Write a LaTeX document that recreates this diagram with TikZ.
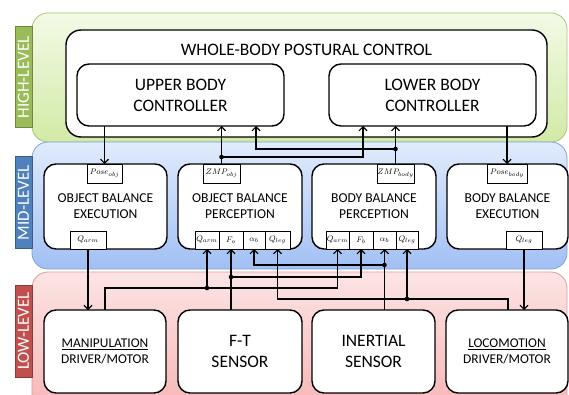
\documentclass[tikz,border=0pt]{standalone}
\usepackage{fontspec}
\setmainfont{Carlito}
\usetikzlibrary{arrows.meta,calc}
\definecolor{gtab}{HTML}{9BBB59}\definecolor{gtabd}{HTML}{71893F}
\definecolor{btab}{HTML}{4F81BD}\definecolor{btabd}{HTML}{385D8A}
\definecolor{rtab}{HTML}{C0504D}\definecolor{rtabd}{HTML}{8C3A38}
\definecolor{gtop}{HTML}{F3FAE6}\definecolor{gbot}{HTML}{D2EAA6}\definecolor{gline}{HTML}{A9C875}
\definecolor{btop}{HTML}{E0EBFC}\definecolor{bbot}{HTML}{A2C0F4}\definecolor{bline}{HTML}{7FA4DA}
\definecolor{rtop}{HTML}{FCE4E4}\definecolor{rbot}{HTML}{F7B4B4}\definecolor{rline}{HTML}{E09A9A}
\begin{document}
\begin{tikzpicture}[x=1pt,y=-1pt,
  band/.style={rounded corners=16pt, line width=0.8pt},
  tab/.style={draw, line width=1pt, inner sep=0pt, rotate=90, minimum height=17pt, text=white, font=\fontsize{17}{17}\selectfont},
  box/.style={draw, line width=1.4pt, fill=white, rounded corners=12pt, inner sep=0pt, outer sep=0pt, anchor=north west, align=center},
  bigtxt/.style={font=\fontsize{17.5}{21}\selectfont},
  midtxt/.style={font=\fontsize{13.6}{16}\selectfont},
  lowtxt/.style={font=\fontsize{13.4}{15.5}\selectfont},
  port/.style={draw, line width=0.8pt, fill=white, inner sep=0pt, outer sep=0pt, anchor=north west, font=\fontsize{8}{9}\selectfont},
  arr/.style={-{Straight Barb[length=4pt,width=8pt]}, line width=1.1pt},
  jdot/.style={fill=black}
]
\clip (0,0) rectangle (569,395);
\fill[white] (0,0) rectangle (569,395);
% bands
\shade[band, top color=gtop, bottom color=gbot, draw=gline] (32,13) rectangle (567,142);
\shade[band, top color=btop, bottom color=bbot, draw=bline] (32,142) rectangle (567,269);
\shade[band, top color=rtop, bottom color=rbot, draw=rline] (32,272) rectangle (567,415);
% tabs
\node[tab, fill=gtab, draw=gtabd, minimum width=101pt] (thigh) at (23.5,77.5) {HIGH-LEVEL};
\node[tab, fill=btab, draw=btabd, minimum width=91pt] (tmid) at (23.5,202.5) {MID-LEVEL};
\node[tab, fill=rtab, draw=rtabd, minimum width=92pt] (tlow) at (23.5,331) {LOW-LEVEL};
% high level
\node[box, rounded corners=15pt, minimum width=481pt, minimum height=107pt] (wb) at (66,30) {};
\node[bigtxt] (wbt) at (306.5,50) {WHOLE-BODY POSTURAL CONTROL};
\node[box, bigtxt, minimum width=207pt, minimum height=62pt] (ubc) at (77,64) {UPPER BODY\\CONTROLLER};
\node[box, bigtxt, minimum width=207pt, minimum height=62pt] (lbc) at (329,64) {LOWER BODY\\CONTROLLER};
% mid level
\node[box, midtxt, minimum width=123pt, minimum height=85pt] (obe) at (44,164) {OBJECT BALANCE\\EXECUTION};
\node[box, midtxt, minimum width=124pt, minimum height=85pt] (obp) at (178,164) {OBJECT BALANCE\\PERCEPTION};
\node[box, midtxt, minimum width=124pt, minimum height=85pt] (bbp) at (312,164) {BODY BALANCE\\PERCEPTION};
\node[box, midtxt, minimum width=121pt, minimum height=85pt] (bbe) at (447,164) {BODY BALANCE\\EXECUTION};
% ports
\node[port, minimum width=35pt, minimum height=19pt] (pobj) at (87,164) {$Pose_{obj}$};
\node[port, minimum width=36pt, minimum height=18pt] (qarmE) at (70,231) {$Q_{arm}$};
\node[port, minimum width=37pt, minimum height=19pt] (zobj) at (203,164) {$ZMP_{obj}$};
\node[port, minimum width=24pt, minimum height=18pt] (qarmP) at (195,231) {$Q_{arm}$};
\node[port, minimum width=24pt, minimum height=18pt] (foP) at (219,231) {$F_o$};
\node[port, minimum width=22pt, minimum height=18pt] (abP) at (243,231) {$\alpha_b$};
\node[port, minimum width=25pt, minimum height=18pt] (qlegP) at (265,231) {$Q_{leg}$};
\node[port, minimum width=37pt, minimum height=19pt] (zbody) at (377,164) {$ZMP_{body}$};
\node[port, minimum width=23pt, minimum height=18pt] (qarmB) at (326,231) {$Q_{arm}$};
\node[port, minimum width=24pt, minimum height=18pt] (fbB) at (349,231) {$F_b$};
\node[port, minimum width=23pt, minimum height=18pt] (abB) at (373,231) {$\alpha_b$};
\node[port, minimum width=22pt, minimum height=18pt] (qlegB) at (396,231) {$Q_{leg}$};
\node[port, minimum width=40pt, minimum height=19pt] (pbody) at (487,164) {$Pose_{body}$};
\node[port, minimum width=36pt, minimum height=18pt] (qlegE) at (506,231) {$Q_{leg}$};
% low level
\node[box, lowtxt, minimum width=122pt, minimum height=83pt] (manip) at (44,310) {\underline{MANIPULATION}\\DRIVER/MOTOR};
\node[box, bigtxt, minimum width=124pt, minimum height=83pt] (ft) at (178,310) {F-T\\SENSOR};
\node[box, bigtxt, minimum width=123pt, minimum height=83pt] (inert) at (312,310) {INERTIAL\\SENSOR};
\node[box, lowtxt, minimum width=122pt, minimum height=83pt] (loco) at (446,310) {\underline{LOCOMOTION}\\DRIVER/MOTOR};
% junction coordinates
\coordinate (j1) at ($(zobj.north)+(0,-7)$);
\coordinate (j2) at ($(zbody.north)+(0,-15)$);
\coordinate (j3) at ($(qarmP.south)+(0,39)$);
\coordinate (j4) at ($(foP.south)+(0,28)$);
\coordinate (j5) at ($(abB.south)+(0,16)$);
\coordinate (j6) at ($(qlegB.south)+(0,50)$);
\coordinate (ubcin) at ($(ubc.south west)+(179,0)$);
\coordinate (lbcin) at ($(lbc.south west)+(34,0)$);
\coordinate (manout) at ($(manip.north west)+(61,0)$);
\coordinate (locout) at ($(loco.north west)+(62,0)$);
% top connectors
\draw[arr] (ubc.south -| pobj.north) -- (pobj.north);
\draw[arr] (zobj.north) -- (zobj.north |- ubc.south);
\draw[arr] (j1) -| (lbcin);
\draw[arr] (zbody.north) -- (zbody.north |- lbc.south);
\draw[arr] (j2) -| (ubcin);
\draw[arr] (lbc.south -| pbody.north) -- (pbody.north);
% bottom connectors
\draw[arr] (qarmE.south) -- (qarmE.south |- manip.north);
\draw[arr] (qlegE.south) -- (qlegE.south |- loco.north);
\draw[arr] (manout) |- ($(qarmB.south)+(0,39)$) -- (qarmB.south);
\draw[arr] (j3) -- (qarmP.south);
\draw[arr] (ft.north -| foP.south) -- (foP.south);
\draw[arr] (j4) -| (fbB.south);
\draw[arr] (inert.north -| abB.south) -- (abB.south);
\draw[arr] (j5) -| (abP.south);
\draw[arr] (locout) |- ($(qlegP.south)+(0,50)$) -- (qlegP.south);
\draw[arr] (j6) -- (qlegB.south);
% dots
\foreach \j in {j1,j2,j3,j4,j5,j6} \fill[jdot] (\j) circle (2.3pt);
\end{tikzpicture}
\end{document}
